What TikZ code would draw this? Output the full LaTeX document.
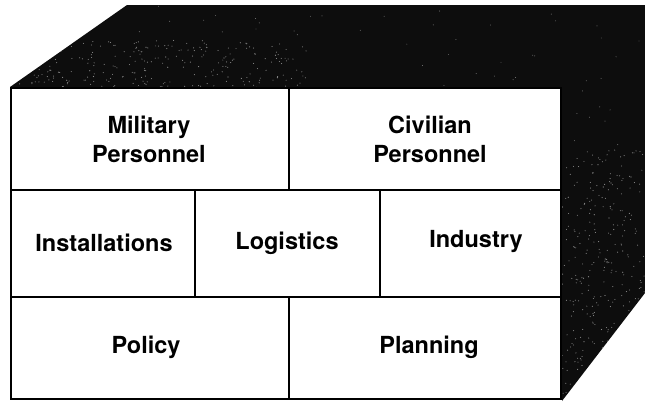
\documentclass[tikz,border=0pt]{standalone}
\usepackage{fontspec}
\setmainfont{TeX Gyre Heros}
\begin{document}
\begin{tikzpicture}[x=1pt,y=-1pt,
  cell/.style={draw=black,line width=1.6pt,fill=white},
  lbl/.style={font=\fontsize{23.5}{29}\selectfont\bfseries,align=center,inner sep=0pt},
  dark/.style={fill=black!95,draw=none},
  speck/.style={fill=black!45,draw=none}]
\useasboundingbox (0,0) rectangle (645,405);
% top and right faces
\path[dark] (10,87) -- (127,5) -- (645,5) -- (645,293) -- (562,401) -- (562,87) -- cycle;
\begin{scope}
  \clip (10,87) -- (127,5) -- (645,5) -- (645,293) -- (562,401) -- (562,87) -- cycle;
  \pgfmathsetseed{7}
  \foreach \i in {1,...,260}{
    \pgfmathsetmacro\xx{10+300*rnd}\pgfmathsetmacro\yy{40+48*rnd}
    \fill[speck] (\xx,\yy) circle (0.55);}
  \foreach \i in {1,...,320}{
    \pgfmathsetmacro\xx{562+83*rnd}\pgfmathsetmacro\yy{150+250*rnd}
    \fill[speck] (\xx,\yy) circle (0.55);}
  \foreach \i in {1,...,80}{
    \pgfmathsetmacro\xx{130+515*rnd}\pgfmathsetmacro\yy{5+140*rnd}
    \fill[speck] (\xx,\yy) circle (0.45);}
\end{scope}
% cells
\draw[cell] (11,88) rectangle (289,190);
\draw[cell] (289,88) rectangle (561,190);
\draw[cell] (11,190) rectangle (195,297);
\draw[cell] (195,190) rectangle (380,297);
\draw[cell] (380,190) rectangle (561,297);
\draw[cell] (11,297) rectangle (289,399);
\draw[cell] (289,297) rectangle (561,399);
% labels
\node[lbl] (mil) at (149,139) {Military\\Personnel};
\node[lbl] (civ) at (430,139) {Civilian\\Personnel};
\node[lbl] (inst) at (104,243) {Installations};
\node[lbl] (log) at (287,243) {Logistics};
\node[lbl] (ind) at (476,242) {Industry};
\node[lbl] (pol) at (146,347) {Policy};
\node[lbl] (plan) at (429,347) {Planning};
\end{tikzpicture}
\end{document}
